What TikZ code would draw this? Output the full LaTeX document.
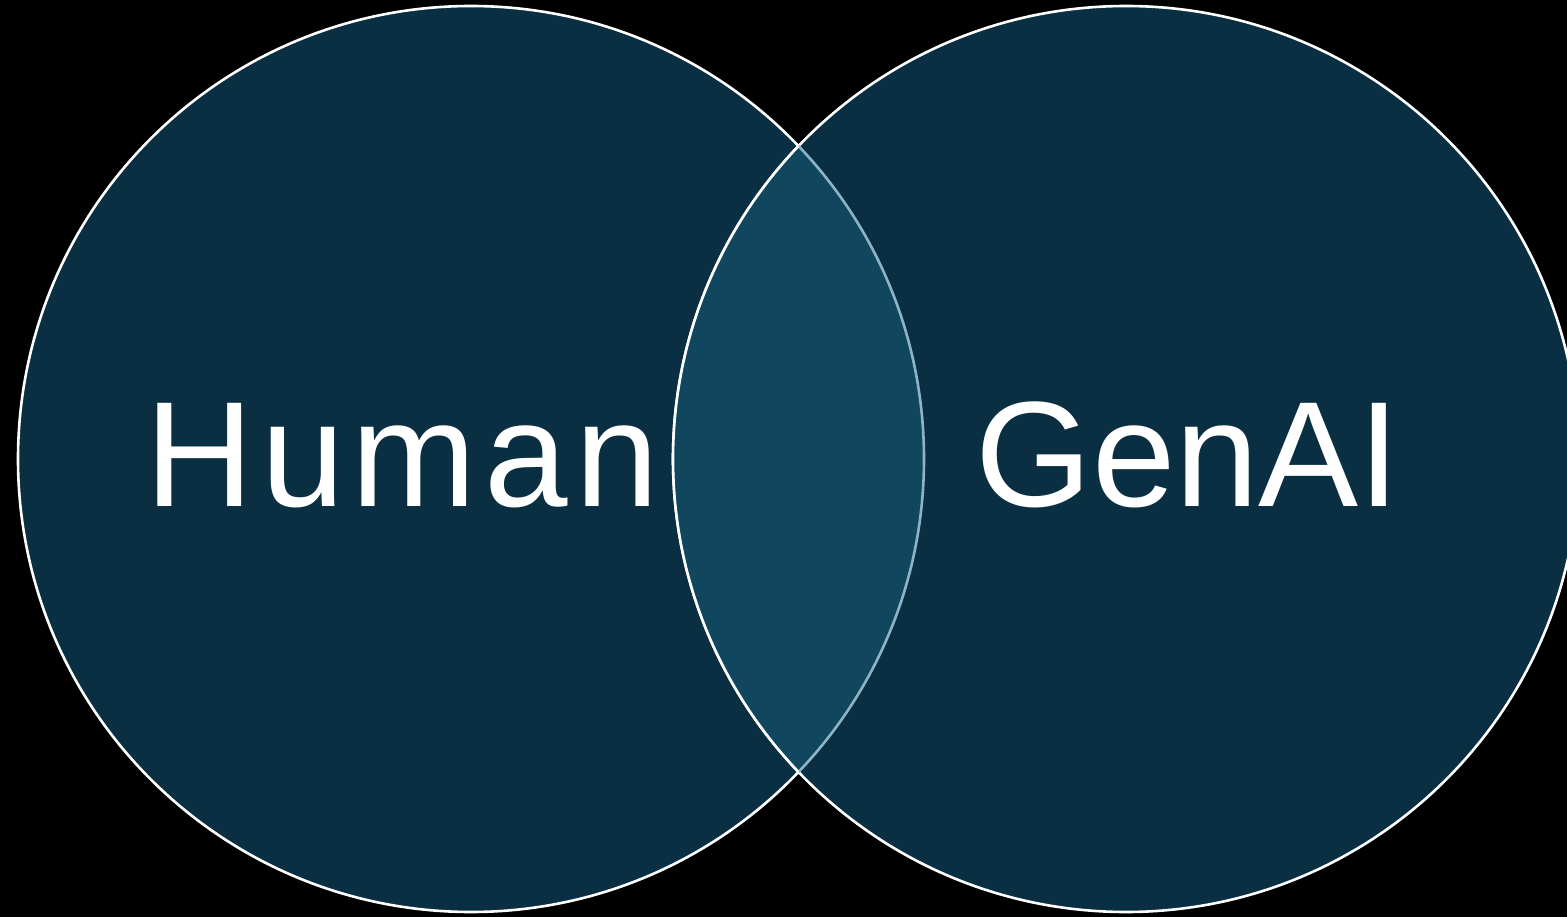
\documentclass[tikz,border=0pt]{standalone}
\usepackage{fontspec}
\setmainfont{Liberation Sans}
\newfontfamily\humanfont[LetterSpace=5]{Liberation Sans}
\definecolor{circfill}{HTML}{0B2F42}
\definecolor{lensfill}{HTML}{10475F}
\definecolor{lensline}{HTML}{8DB3C7}
\begin{document}
\begin{tikzpicture}[x=1pt,y=-1pt,
  circ/.style={fill=circfill,draw=white,line width=2.6pt},
  lbl/.style={text=white,font=\fontsize{150}{152}\selectfont,inner sep=0pt}]
\fill[black] (0,0) rectangle (1567,917);
\useasboundingbox (0,0) rectangle (1567,917);
\begin{scope}
\clip (0,0) rectangle (1567,917);
\coordinate (cl) at (471,459);
\coordinate (cr) at (1126,459);
\draw[circ] (cl) circle[radius=453];
\draw[circ] (cr) circle[radius=453];
\begin{scope}
\clip (cl) circle[radius=453];
\fill[lensfill] (cr) circle[radius=453];
\end{scope}
\begin{scope}
\clip (cr) circle[radius=453];
\draw[lensline,line width=2.6pt] (cl) circle[radius=453];
\end{scope}
\begin{scope}
\clip (cl) circle[radius=453];
\draw[white,line width=2.6pt] (cr) circle[radius=453];
\end{scope}
\end{scope}
\node[lbl,anchor=base west] (human) at (145,506) {\humanfont\fontsize{150}{152}\selectfont Human};
\node[lbl,anchor=base] (genai) at (1188,506) {GenAI};
\end{tikzpicture}
\end{document}
